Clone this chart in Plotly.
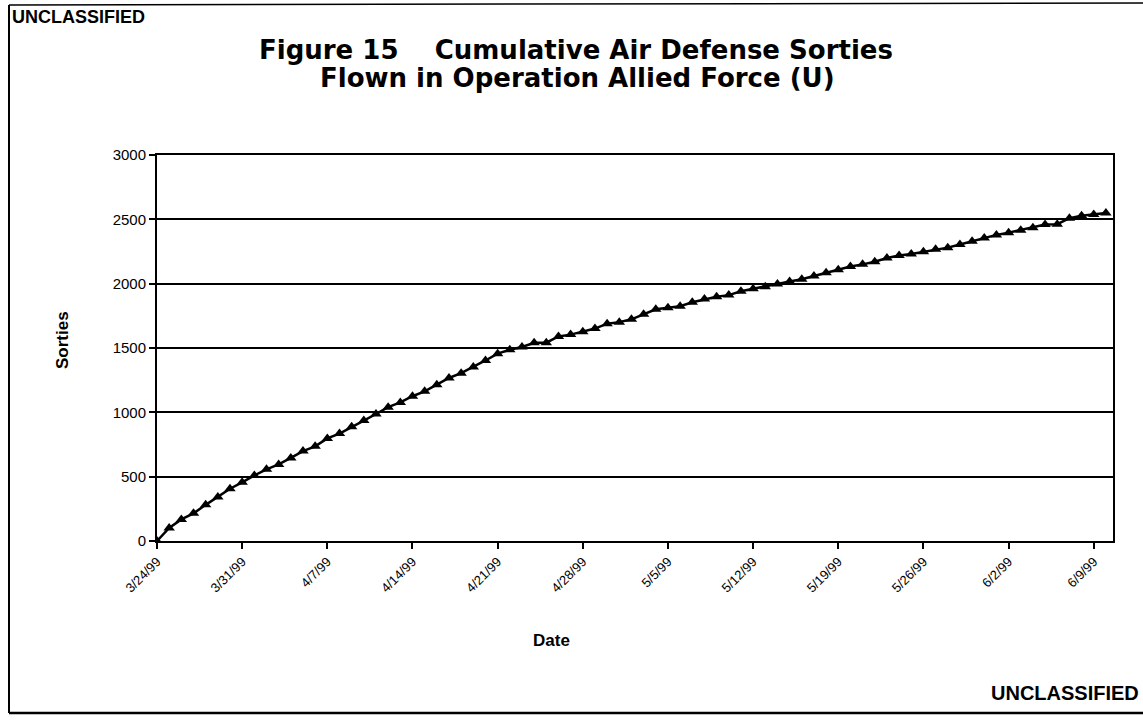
import pandas as pd
import plotly.graph_objects as go

start_date = "1999-03-24"
sorties = [0, 101, 168, 215, 281, 342, 406, 456, 510, 557,
           595, 646, 699, 736, 797, 835, 888, 936, 987, 1040,
           1077, 1125, 1163, 1214, 1267, 1304, 1352, 1403, 1456, 1486,
           1508, 1540, 1541, 1590, 1604, 1627, 1651, 1689, 1701, 1723,
           1763, 1801, 1813, 1825, 1855, 1880, 1899, 1911, 1941, 1961,
           1977, 1997, 2017, 2034, 2059, 2084, 2108, 2133, 2150, 2170,
           2199, 2219, 2231, 2248, 2268, 2280, 2305, 2329, 2354, 2379,
           2396, 2416, 2435, 2460, 2462, 2509, 2527, 2538, 2550]
dates = pd.date_range(start_date, periods=len(sorties), freq="D")

tick_dates = ["1999-03-24", "1999-03-31", "1999-04-07", "1999-04-14", "1999-04-21",
              "1999-04-28", "1999-05-05", "1999-05-12", "1999-05-19", "1999-05-26",
              "1999-06-02", "1999-06-09"]
tick_labels = ["3/24/99", "3/31/99", "4/7/99", "4/14/99", "4/21/99", "4/28/99",
               "5/5/99", "5/12/99", "5/19/99", "5/26/99", "6/2/99", "6/9/99"]
y_ticks = [0, 500, 1000, 1500, 2000, 2500, 3000]

FONT = "Liberation Sans, Arial, sans-serif"
TFONT = "DejaVu Sans, Liberation Sans, sans-serif"

W, H = 1143, 720
L, R, T, B = 157, 1113, 155, 541


def px(x):
    return (x - L) / (R - L)


def py(y):
    return (B - y) / (B - T)


fig = go.Figure()
fig.add_trace(go.Scatter(
    x=dates, y=sorties, mode="lines+markers",
    line=dict(color="black", width=2.5),
    marker=dict(symbol="triangle-up", size=10, color="black"),
    showlegend=False,
))

fig.update_layout(
    width=W, height=H,
    paper_bgcolor="white", plot_bgcolor="white",
    margin=dict(l=L, r=W - R, t=T, b=H - B, pad=0),
    font=dict(family=FONT, color="black"),
    xaxis=dict(
        range=["1999-03-24", "1999-06-10 14:00"],
        tickvals=tick_dates, ticktext=tick_labels, tickangle=-45,
        tickfont=dict(size=13, family=FONT),
        ticks="outside", ticklen=6, tickwidth=2, tickcolor="black",
        showline=True, linecolor="black", linewidth=2, mirror=True,
        showgrid=False, zeroline=False, automargin=False,
    ),
    yaxis=dict(
        range=[0, 3000], tickvals=y_ticks,
        tickfont=dict(size=15, family=FONT),
        ticks="outside", ticklen=6, tickwidth=2, tickcolor="black",
        showline=True, linecolor="black", linewidth=2, mirror=True,
        showgrid=True, gridcolor="black", gridwidth=1.6, zeroline=False,
        automargin=False,
    ),
)

# page frame lines
fig.add_shape(type="line", xref="paper", yref="paper", x0=px(9), x1=px(1143), y0=py(5), y1=py(3),
              line=dict(color="black", width=1.5))
fig.add_shape(type="line", xref="paper", yref="paper", x0=px(9), x1=px(9), y0=py(713), y1=py(5),
              line=dict(color="black", width=2))
fig.add_shape(type="line", xref="paper", yref="paper", x0=px(9), x1=px(1143), y0=py(713), y1=py(713),
              line=dict(color="black", width=2.5))

# titles
fig.add_annotation(text="<b>Figure 15    Cumulative Air Defense Sorties</b>", xref="paper", yref="paper",
                   x=px(576), y=py(50), xanchor="center", yanchor="middle", showarrow=False,
                   font=dict(size=26, family=TFONT, color="black"))
fig.add_annotation(text="<b>Flown in Operation Allied Force (U)</b>", xref="paper", yref="paper",
                   x=px(577), y=py(78), xanchor="center", yanchor="middle", showarrow=False,
                   font=dict(size=26, family=TFONT, color="black"))

# axis titles
fig.add_annotation(text="<b>Sorties</b>", xref="paper", yref="paper",
                   x=px(62), y=py(340), xanchor="center", yanchor="middle", showarrow=False,
                   textangle=-90, font=dict(size=17, family=FONT, color="black"))
fig.add_annotation(text="<b>Date</b>", xref="paper", yref="paper",
                   x=px(551), y=py(640), xanchor="center", yanchor="middle", showarrow=False,
                   font=dict(size=17, family=FONT, color="black"))

fig.add_annotation(text="<b>UNCLASSIFIED</b>", xref="paper", yref="paper",
                   x=px(10), y=py(17), xanchor="left", yanchor="middle", showarrow=False,
                   font=dict(size=18, family=FONT, color="black"))
fig.add_annotation(text="<b>UNCLASSIFIED</b>", xref="paper", yref="paper",
                   x=px(1141), y=py(693), xanchor="right", yanchor="middle", showarrow=False,
                   font=dict(size=20, family=FONT, color="black"))

fig.write_html("out.html", config={"displayModeBar": False},
               post_script="document.body.style.margin='0px';document.body.style.overflow='hidden';")
